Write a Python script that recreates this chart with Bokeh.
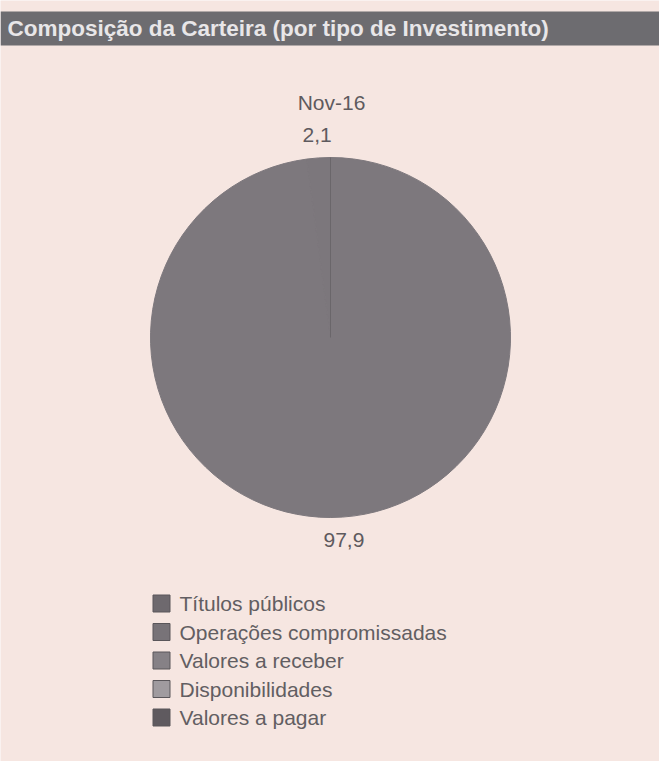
import math
from bokeh.plotting import figure
from bokeh.models import ColumnDataSource, Range1d
from bokeh.core.properties import value
from bokeh.embed import file_html
from bokeh.resources import INLINE

# ---- data ----
title = "Composição da Carteira (por tipo de Investimento)"
period = "Nov-16"
categories = ["Títulos públicos", "Operações compromissadas", "Valores a receber",
              "Disponibilidades", "Valores a pagar"]
values = [97.9, 2.1, 0.0, 0.0, 0.0]
colors = ["#7d787d", "#7c777c", "#878287", "#a09b9f", "#625d62"]
legend_colors = ["#6e696e", "#787378", "#868186", "#a09b9f", "#5f5a5f"]

W, H = 659, 761
FONT = "Liberation Sans"

p = figure(width=W, height=H, output_backend="svg", toolbar_location=None,
           x_range=Range1d(0, W), y_range=Range1d(0, H), min_border=0)
p.axis.visible = False
p.grid.visible = False
p.outline_line_color = None
p.background_fill_color = "#f6e6e1"
p.border_fill_color = "#f6e6e1"

def Y(ref_y):
    return H - ref_y

# title bar
p.quad(left=[0], right=[W], top=[Y(11)], bottom=[Y(45)], fill_color="#6d6c70", line_color=None)
p.text(x=[7], y=[Y(28)], text=[title], text_font=value(FONT), text_font_style="bold",
       text_font_size="22.5px", text_color="#e8e6e8", text_baseline="middle", text_align="left")

# period label
cx, cy, r = 330, Y(337), 180
p.text(x=[cx + 1], y=[Y(102)], text=[period], text_font=value(FONT), text_font_size="21px",
       text_color="#5e5a5e", text_align="center", text_baseline="middle")

# pie (clockwise from 12 o'clock), only non-zero slices
total = sum(values)
starts, ends, mids, cols = [], [], [], []
cum = 0.0
for v, c in zip(values, colors):
    a0 = math.pi / 2 - 2 * math.pi * cum / total
    cum += v
    a1 = math.pi / 2 - 2 * math.pi * cum / total
    if v > 0:
        starts.append(a0)
        ends.append(a1)
        mids.append((a0 + a1) / 2)
        cols.append(c)

src = ColumnDataSource(dict(start=starts, end=ends, color=cols))
p.wedge(x=cx, y=cy, radius=r, start_angle="start", end_angle="end", direction="clock",
        fill_color="color", line_color="color", line_width=1, source=src)
# boundary line visible at 12 o'clock
p.segment(x0=[cx], y0=[cy], x1=[cx + r * math.cos(starts[0])], y1=[cy + r * math.sin(starts[0])],
          line_color="#6a666a", line_width=1)

# value labels
lx, ly, lt = [], [], []
for v, m in zip([v for v in values if v > 0], mids):
    lx.append(cx + (r + 23) * math.cos(m))
    ly.append(cy + (r + 23) * math.sin(m))
    lt.append(f"{v:.1f}".replace(".", ","))
p.text(x=lx, y=ly, text=lt, text_font=value(FONT), text_font_size="21px",
       text_color="#5e5a5e", text_align="center", text_baseline="middle")

# legend
ys = [Y(603) - 28.5 * i for i in range(len(categories))]
p.rect(x=[161] * len(categories), y=ys, width=17, height=17,
       fill_color=legend_colors, line_color="#5a565a", line_width=1)
p.text(x=[179] * len(categories), y=ys, text=categories, text_font=value(FONT),
       text_font_size="21px", text_color="#625e62", text_align="left", text_baseline="middle")

open("out.html", "w").write(file_html(p, INLINE))
